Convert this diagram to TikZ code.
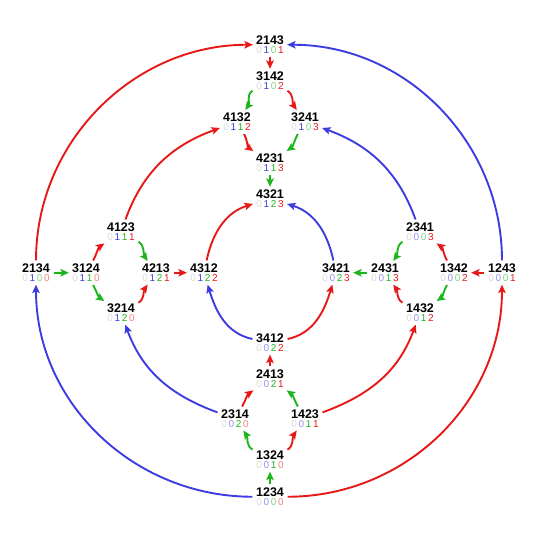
\documentclass[tikz,border=0pt]{standalone}
\usepackage{fontspec}
\setmainfont{Liberation Sans}
\usetikzlibrary{arrows.meta}
\definecolor{cR}{RGB}{230,25,25}
\definecolor{cB}{RGB}{60,60,225}
\definecolor{cG}{RGB}{30,180,30}
\newcommand\dg[2]{\makebox[7.2pt]{\ifnum#2=0\color{#1!55!white}\else\color{#1}\fi#2}}
\newcommand\zd{\makebox[7.2pt]{\color{black!15}0}}
\newcommand\digfont{\fontsize{10}{9.5}\selectfont\mdseries}
\newcommand\pn[6]{\node[pnode] (n#1) at (#2,-#3-4.75) {#1\\{\digfont\zd\dg{cB}{#4}\dg{cG}{#5}\dg{cR}{#6}}};}
\tikzset{
  pnode/.style={align=center, inner sep=2pt, font=\fontsize{12.5}{9.5}\selectfont\bfseries},
  earrow/.style={line width=1.9pt, -{Stealth[length=8.5pt,width=7.5pt,inset=1.8pt]}, shorten >=0.5pt, shorten <=1pt},
  ered/.style={earrow, color=cR},
  eblue/.style={earrow, color=cB},
  egreen/.style={earrow, color=cG}
}
\begin{document}
\begin{tikzpicture}[x=1pt,y=1pt]
\useasboundingbox (0,0) rectangle (540,-540);
% nodes: name, x, y(px), b, c, d
\pn{2143}{270}{40}{1}{0}{1}
\pn{3142}{270}{76}{1}{0}{2}
\pn{4132}{237}{117}{1}{1}{2}
\pn{3241}{305}{117}{1}{0}{3}
\pn{4231}{270}{158}{1}{1}{3}
\pn{4321}{270}{194}{1}{2}{3}
\pn{4123}{121}{227}{1}{1}{1}
\pn{2134}{36}{268}{1}{0}{0}
\pn{3124}{86}{268}{1}{1}{0}
\pn{4213}{156}{268}{1}{2}{1}
\pn{4312}{204}{268}{1}{2}{2}
\pn{3214}{121}{308}{1}{2}{0}
\pn{3421}{336}{268}{0}{2}{3}
\pn{2431}{385}{268}{0}{1}{3}
\pn{2341}{420}{227}{0}{0}{3}
\pn{1342}{454}{268}{0}{0}{2}
\pn{1243}{502}{268}{0}{0}{1}
\pn{1432}{420}{308}{0}{1}{2}
\pn{3412}{270}{338}{0}{2}{2}
\pn{2413}{270}{374}{0}{2}{1}
\pn{2314}{235}{414}{0}{2}{0}
\pn{1423}{305}{414}{0}{1}{1}
\pn{1324}{270}{455}{0}{1}{0}
\pn{1234}{270}{492}{0}{0}{0}
% top quad
\draw[ered] (n2143) -- (n3142);
\draw[egreen] (n3142) to[out=210,in=55] (n4132);
\draw[ered] (n3142) to[out=-30,in=125] (n3241);
\draw[ered] (n4132) to[out=-60,in=145] (n4231);
\draw[egreen] (n3241) to[out=-120,in=35] (n4231);
\draw[egreen] (n4231) -- (n4321);
% left quad
\draw[egreen] (n2134) -- (n3124);
\draw[ered] (n3124) to[out=60,in=215] (n4123);
\draw[egreen] (n3124) to[out=-60,in=145] (n3214);
\draw[egreen] (n4123) to[out=-30,in=125] (n4213);
\draw[ered] (n3214) to[out=30,in=235] (n4213);
\draw[ered] (n4213) -- (n4312);
% right quad
\draw[ered] (n1243) -- (n1342);
\draw[ered] (n1342) to[out=120,in=-35] (n2341);
\draw[egreen] (n1342) to[out=-120,in=35] (n1432);
\draw[egreen] (n2341) to[out=210,in=55] (n2431);
\draw[ered] (n1432) to[out=150,in=-55] (n2431);
\draw[egreen] (n2431) -- (n3421);
% bottom quad
\draw[egreen] (n1234) -- (n1324);
\draw[egreen] (n1324) to[out=150,in=-55] (n2314);
\draw[ered] (n1324) to[out=30,in=235] (n1423);
\draw[ered] (n2314) to[out=60,in=215] (n2413);
\draw[egreen] (n1423) to[out=120,in=-35] (n2413);
\draw[ered] (n2413) -- (n3412);
% inner ring
\draw[ered] (n4312) to[out=78,in=197] (n4321);
\draw[eblue] (n3421) to[out=102,in=-17] (n4321);
\draw[eblue] (n3412) to[out=168,in=-73] (n4312);
\draw[ered] (n3412) to[out=12,in=253] (n3421);
% middle ring
\draw[ered] (n4123) to[out=70,in=200] (n4132);
\draw[eblue] (n2341) to[out=110,in=-20] (n3241);
\draw[eblue] (n2314) to[out=160,in=-70] (n3214);
\draw[ered] (n1423) to[out=20,in=250] (n1432);
% outer ring
\draw[ered] (n2134) to[out=90,in=180] (n2143);
\draw[eblue] (n1243) to[out=90,in=0] (n2143);
\draw[eblue] (n1234) to[out=180,in=-90] (n2134);
\draw[ered] (n1234) to[out=0,in=-90] (n1243);
\end{tikzpicture}
\end{document}
